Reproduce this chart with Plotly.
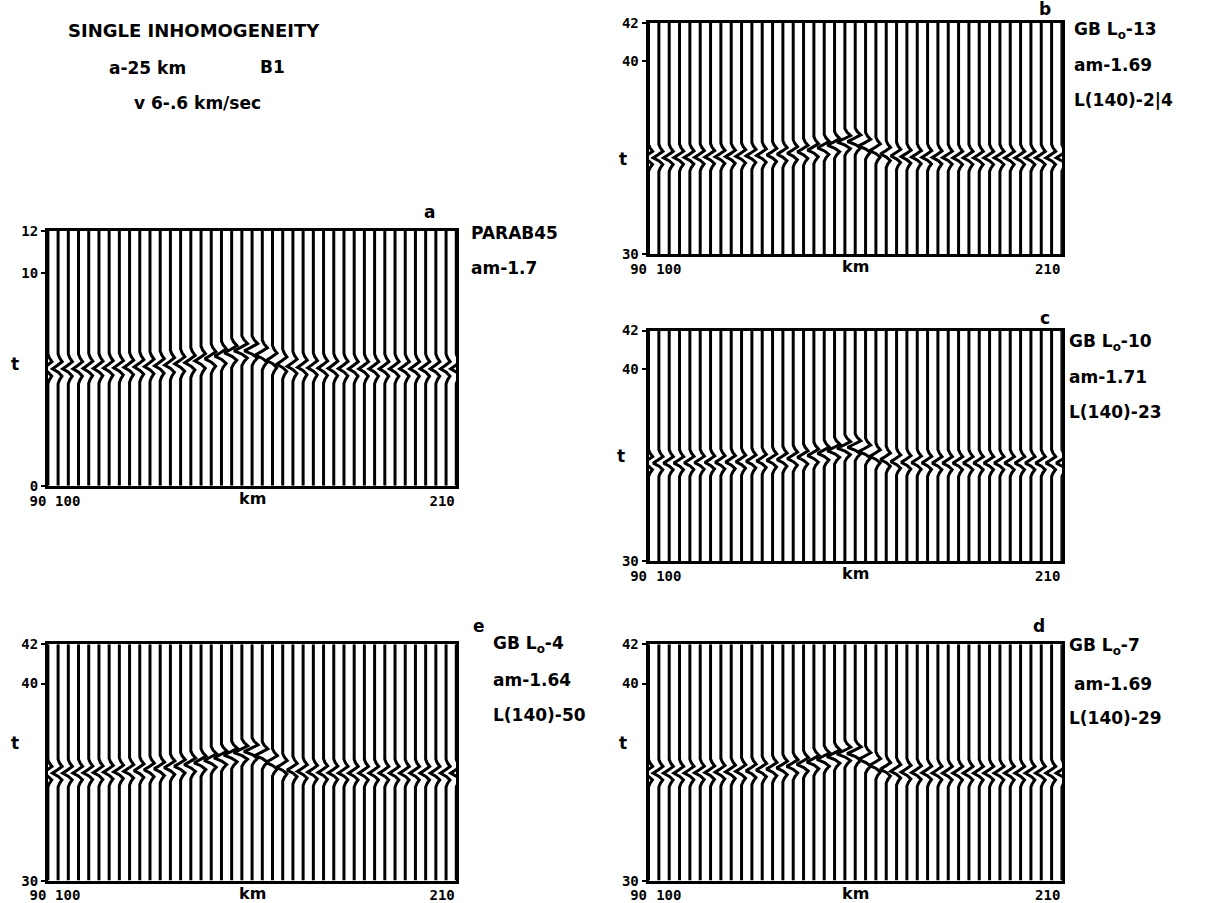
import plotly.graph_objects as go

W, H = 1212, 903

# ---------------- data ----------------
KM = [90, 93, 96, 99, 102, 105, 108, 111, 114, 117, 120, 123, 126, 129, 132, 135,
      138, 141, 144, 147, 150, 153, 156, 159, 162, 165, 168, 171, 174, 177, 180,
      183, 186, 189, 192, 195, 198, 201, 204, 207, 210]

# digitised wavelet: time offsets (t units) and deflection (fraction of trace spacing)
WAVELET_TAU = [-0.70, -0.52, -0.34, -0.16, 0.0, 0.16, 0.34, 0.52, 0.70]
WAVELET_SHAPE = [0.0, 0.14, 0.38, 0.02, -0.55, -0.08, 0.40, 0.14, 0.0]

# arrival (centre) time of the wavelet on each trace
ARRIVAL_A = [5.50, 5.50, 5.50, 5.50, 5.52, 5.52, 5.54, 5.55, 5.57, 5.59,
             5.61, 5.64, 5.68, 5.73, 5.79, 5.87, 5.97, 6.10, 6.25, 6.35,
             6.35, 6.15, 5.90, 5.72, 5.62, 5.57, 5.55, 5.53, 5.52, 5.51,
             5.50, 5.50, 5.50, 5.50, 5.50, 5.50, 5.50, 5.50, 5.50, 5.50, 5.50]
ARRIVAL_B = [35.00, 35.00, 35.00, 35.01, 35.02, 35.03, 35.04, 35.05, 35.06, 35.08,
             35.10, 35.12, 35.15, 35.19, 35.24, 35.31, 35.40, 35.52, 35.66, 35.82,
             35.85, 35.62, 35.38, 35.20, 35.10, 35.06, 35.04, 35.03, 35.02, 35.01,
             35.00, 35.00, 35.00, 35.00, 35.00, 35.00, 35.00, 35.00, 35.00, 35.00, 35.00]
ARRIVAL_C = [35.10, 35.10, 35.10, 35.10, 35.11, 35.12, 35.13, 35.14, 35.15, 35.17,
             35.19, 35.21, 35.24, 35.28, 35.33, 35.40, 35.49, 35.60, 35.74, 35.88,
             35.92, 35.70, 35.45, 35.28, 35.18, 35.14, 35.12, 35.11, 35.10, 35.10,
             35.10, 35.10, 35.10, 35.10, 35.10, 35.10, 35.10, 35.10, 35.10, 35.10, 35.10]
ARRIVAL_E = [35.45, 35.45, 35.45, 35.46, 35.47, 35.48, 35.50, 35.52, 35.55, 35.58,
             35.62, 35.67, 35.73, 35.80, 35.88, 35.98, 36.10, 36.23, 36.37, 36.50,
             36.55, 36.35, 36.00, 35.75, 35.61, 35.54, 35.50, 35.48, 35.47, 35.46,
             35.45, 35.45, 35.45, 35.45, 35.45, 35.45, 35.45, 35.45, 35.45, 35.45, 35.45]
ARRIVAL_D = [35.45, 35.45, 35.45, 35.45, 35.46, 35.47, 35.48, 35.50, 35.52, 35.54,
             35.57, 35.61, 35.66, 35.72, 35.80, 35.90, 36.02, 36.15, 36.30, 36.43,
             36.45, 36.15, 35.85, 35.65, 35.55, 35.50, 35.48, 35.47, 35.46, 35.45,
             35.45, 35.45, 35.45, 35.45, 35.45, 35.45, 35.45, 35.45, 35.45, 35.45, 35.45]

# relative wavelet amplitude on each trace
AMP_A = [1.00, 1.00, 1.00, 1.00, 1.00, 1.00, 1.00, 1.00, 1.00, 1.00,
         1.00, 1.00, 1.02, 1.04, 1.06, 1.09, 1.14, 1.20, 1.30, 1.40,
         1.38, 1.25, 1.10, 1.04, 1.02, 1.00, 1.00, 1.00, 1.00, 1.00,
         1.00, 1.00, 1.00, 1.00, 1.00, 1.00, 1.00, 1.00, 1.00, 1.00, 1.00]
AMP_B = [1.00, 1.00, 1.00, 1.00, 1.00, 1.00, 1.00, 1.00, 1.00, 1.00,
         1.00, 1.00, 1.02, 1.03, 1.05, 1.08, 1.12, 1.18, 1.28, 1.38,
         1.35, 1.22, 1.08, 1.03, 1.01, 1.00, 1.00, 1.00, 1.00, 1.00,
         1.00, 1.00, 1.00, 1.00, 1.00, 1.00, 1.00, 1.00, 1.00, 1.00, 1.00]
AMP_C = [1.00, 1.00, 1.00, 1.00, 1.00, 1.00, 1.00, 1.00, 1.00, 1.00,
         1.00, 1.00, 1.02, 1.03, 1.05, 1.08, 1.12, 1.18, 1.28, 1.38,
         1.35, 1.22, 1.08, 1.03, 1.01, 1.00, 1.00, 1.00, 1.00, 1.00,
         1.00, 1.00, 1.00, 1.00, 1.00, 1.00, 1.00, 1.00, 1.00, 1.00, 1.00]
AMP_E = [1.00, 1.00, 1.00, 1.00, 1.00, 1.00, 1.00, 1.01, 1.02, 1.04,
         1.06, 1.08, 1.11, 1.14, 1.18, 1.23, 1.28, 1.34, 1.40, 1.46,
         1.45, 1.35, 1.20, 1.10, 1.05, 1.02, 1.01, 1.00, 1.00, 1.00,
         1.00, 1.00, 1.00, 1.00, 1.00, 1.00, 1.00, 1.00, 1.00, 1.00, 1.00]
AMP_D = [1.00, 1.00, 1.00, 1.00, 1.00, 1.00, 1.00, 1.00, 1.01, 1.02,
         1.04, 1.06, 1.08, 1.11, 1.15, 1.19, 1.24, 1.30, 1.36, 1.42,
         1.42, 1.28, 1.14, 1.06, 1.02, 1.01, 1.00, 1.00, 1.00, 1.00,
         1.00, 1.00, 1.00, 1.00, 1.00, 1.00, 1.00, 1.00, 1.00, 1.00, 1.00]

TRACE_SPACING = 3.0  # km between traces
XTICKS = [90, 100, 210]
KM_LABEL_POS = 150


# pixel -> paper helpers (with small calibration)
def fx(x):
    return (x - 15.0) / 0.989 / W


def fy(y):
    return 1 - (y - 7.0) / 0.985 / H


PANELS = [
    dict(arr=ARRIVAL_A, amp=AMP_A, trange=[0, 12], yt=[0, 10, 12], box=(45, 455, 232, 490)),
    dict(arr=ARRIVAL_B, amp=AMP_B, trange=[30, 42], yt=[30, 40, 42], box=(648, 1063, 22, 256)),
    dict(arr=ARRIVAL_C, amp=AMP_C, trange=[30, 42], yt=[30, 40, 42], box=(648, 1063, 333, 566)),
    dict(arr=ARRIVAL_E, amp=AMP_E, trange=[30, 42], yt=[30, 40, 42], box=(45, 455, 650, 889)),
    dict(arr=ARRIVAL_D, amp=AMP_D, trange=[30, 42], yt=[30, 40, 42], box=(648, 1063, 650, 889)),
]

fig = go.Figure()
annotations = []

tick_font = dict(family="DejaVu Sans Mono", size=14, color="black", weight=700)

for i, p in enumerate(PANELS):
    n = "" if i == 0 else str(i + 1)
    xs, ys = [], []
    t0, t1 = p["trange"]
    for k, ta, a in zip(KM, p["arr"], p["amp"]):
        xs += [k] + [k + TRACE_SPACING * a * s for s in WAVELET_SHAPE] + [k, None]
        ys += [t0] + [ta + tau for tau in WAVELET_TAU] + [t1, None]
    fig.add_trace(go.Scatter(x=xs, y=ys, mode="lines", xaxis="x" + n, yaxis="y" + n,
                             line=dict(color="black", width=3),
                             hoverinfo="skip", showlegend=False))
    x0, x1, y0, y1 = p["box"]
    fig.update_layout(**{
        "xaxis" + n: dict(domain=[fx(x0), fx(x1)], range=[90, 210], anchor="y" + n,
                          showline=True, mirror=True, linewidth=3, linecolor="black",
                          showgrid=False, zeroline=False, ticks="",
                          tickvals=XTICKS, ticktext=[str(v) for v in XTICKS],
                          ticklabelposition="outside left", tickfont=tick_font),
        "yaxis" + n: dict(domain=[fy(y1), fy(y0)], range=p["trange"], anchor="x" + n,
                          showline=True, mirror=True, linewidth=3, linecolor="black",
                          showgrid=False, zeroline=False, ticks="outside", ticklen=4,
                          tickwidth=2, tickcolor="black",
                          tickvals=p["yt"], ticktext=[str(v) for v in p["yt"]],
                          tickfont=tick_font),
    })
    # "km" axis label, on the same level as the tick labels
    annotations.append(dict(text="km", x=KM_LABEL_POS, xref="x" + n, y=fy(y1), yref="paper",
                            xanchor="center", yanchor="top", yshift=-1, showarrow=False,
                            font=dict(family="DejaVu Sans", size=16, color="black", weight=700)))


def ann(text, x, y, size=17, xanchor="left", family="DejaVu Sans"):
    annotations.append(dict(text=text, x=fx(x), y=fy(y), xref="paper", yref="paper",
                            xanchor=xanchor, yanchor="middle", showarrow=False,
                            font=dict(family=family, size=size, color="black", weight=700)))


# header
ann("SINGLE INHOMOGENEITY", 192, 30, size=18, xanchor="center")
ann("a-25 km", 145, 68, xanchor="center")
ann("B1", 270, 67, xanchor="center")
ann("v 6-.6 km/sec", 195, 103, xanchor="center")

# panel a
ann("a", 428, 213, xanchor="center")
ann("PARAB45", 468, 234)
ann("am-1.7", 468, 270)
ann("t", 12, 367, xanchor="center")

# panel b
ann("b", 1046, 8, xanchor="center")
ann("GB L<sub>o</sub>-13", 1073, 30)
ann("am-1.69", 1073, 65)
ann("L(140)-2|4", 1073, 100)
ann("t", 622, 160, xanchor="center")

# panel c
ann("c", 1046, 320, xanchor="center")
ann("GB L<sub>o</sub>-10", 1068, 345)
ann("am-1.71", 1068, 380)
ann("L(140)-23", 1068, 415)
ann("t", 620, 460, xanchor="center")

# panel e
ann("e", 478, 632, xanchor="center")
ann("GB L<sub>o</sub>-4", 490, 650)
ann("am-1.64", 490, 686)
ann("L(140)-50", 490, 722)
ann("t", 12, 750, xanchor="center")

# panel d
ann("d", 1040, 632, xanchor="center")
ann("GB L<sub>o</sub>-7", 1068, 652)
ann("am-1.69", 1073, 690)
ann("L(140)-29", 1068, 725)
ann("t", 622, 750, xanchor="center")

fig.update_layout(width=W, height=H, margin=dict(l=0, r=0, t=0, b=0),
                  paper_bgcolor="white", plot_bgcolor="white",
                  annotations=annotations, showlegend=False)

fig.write_html("out.html")
